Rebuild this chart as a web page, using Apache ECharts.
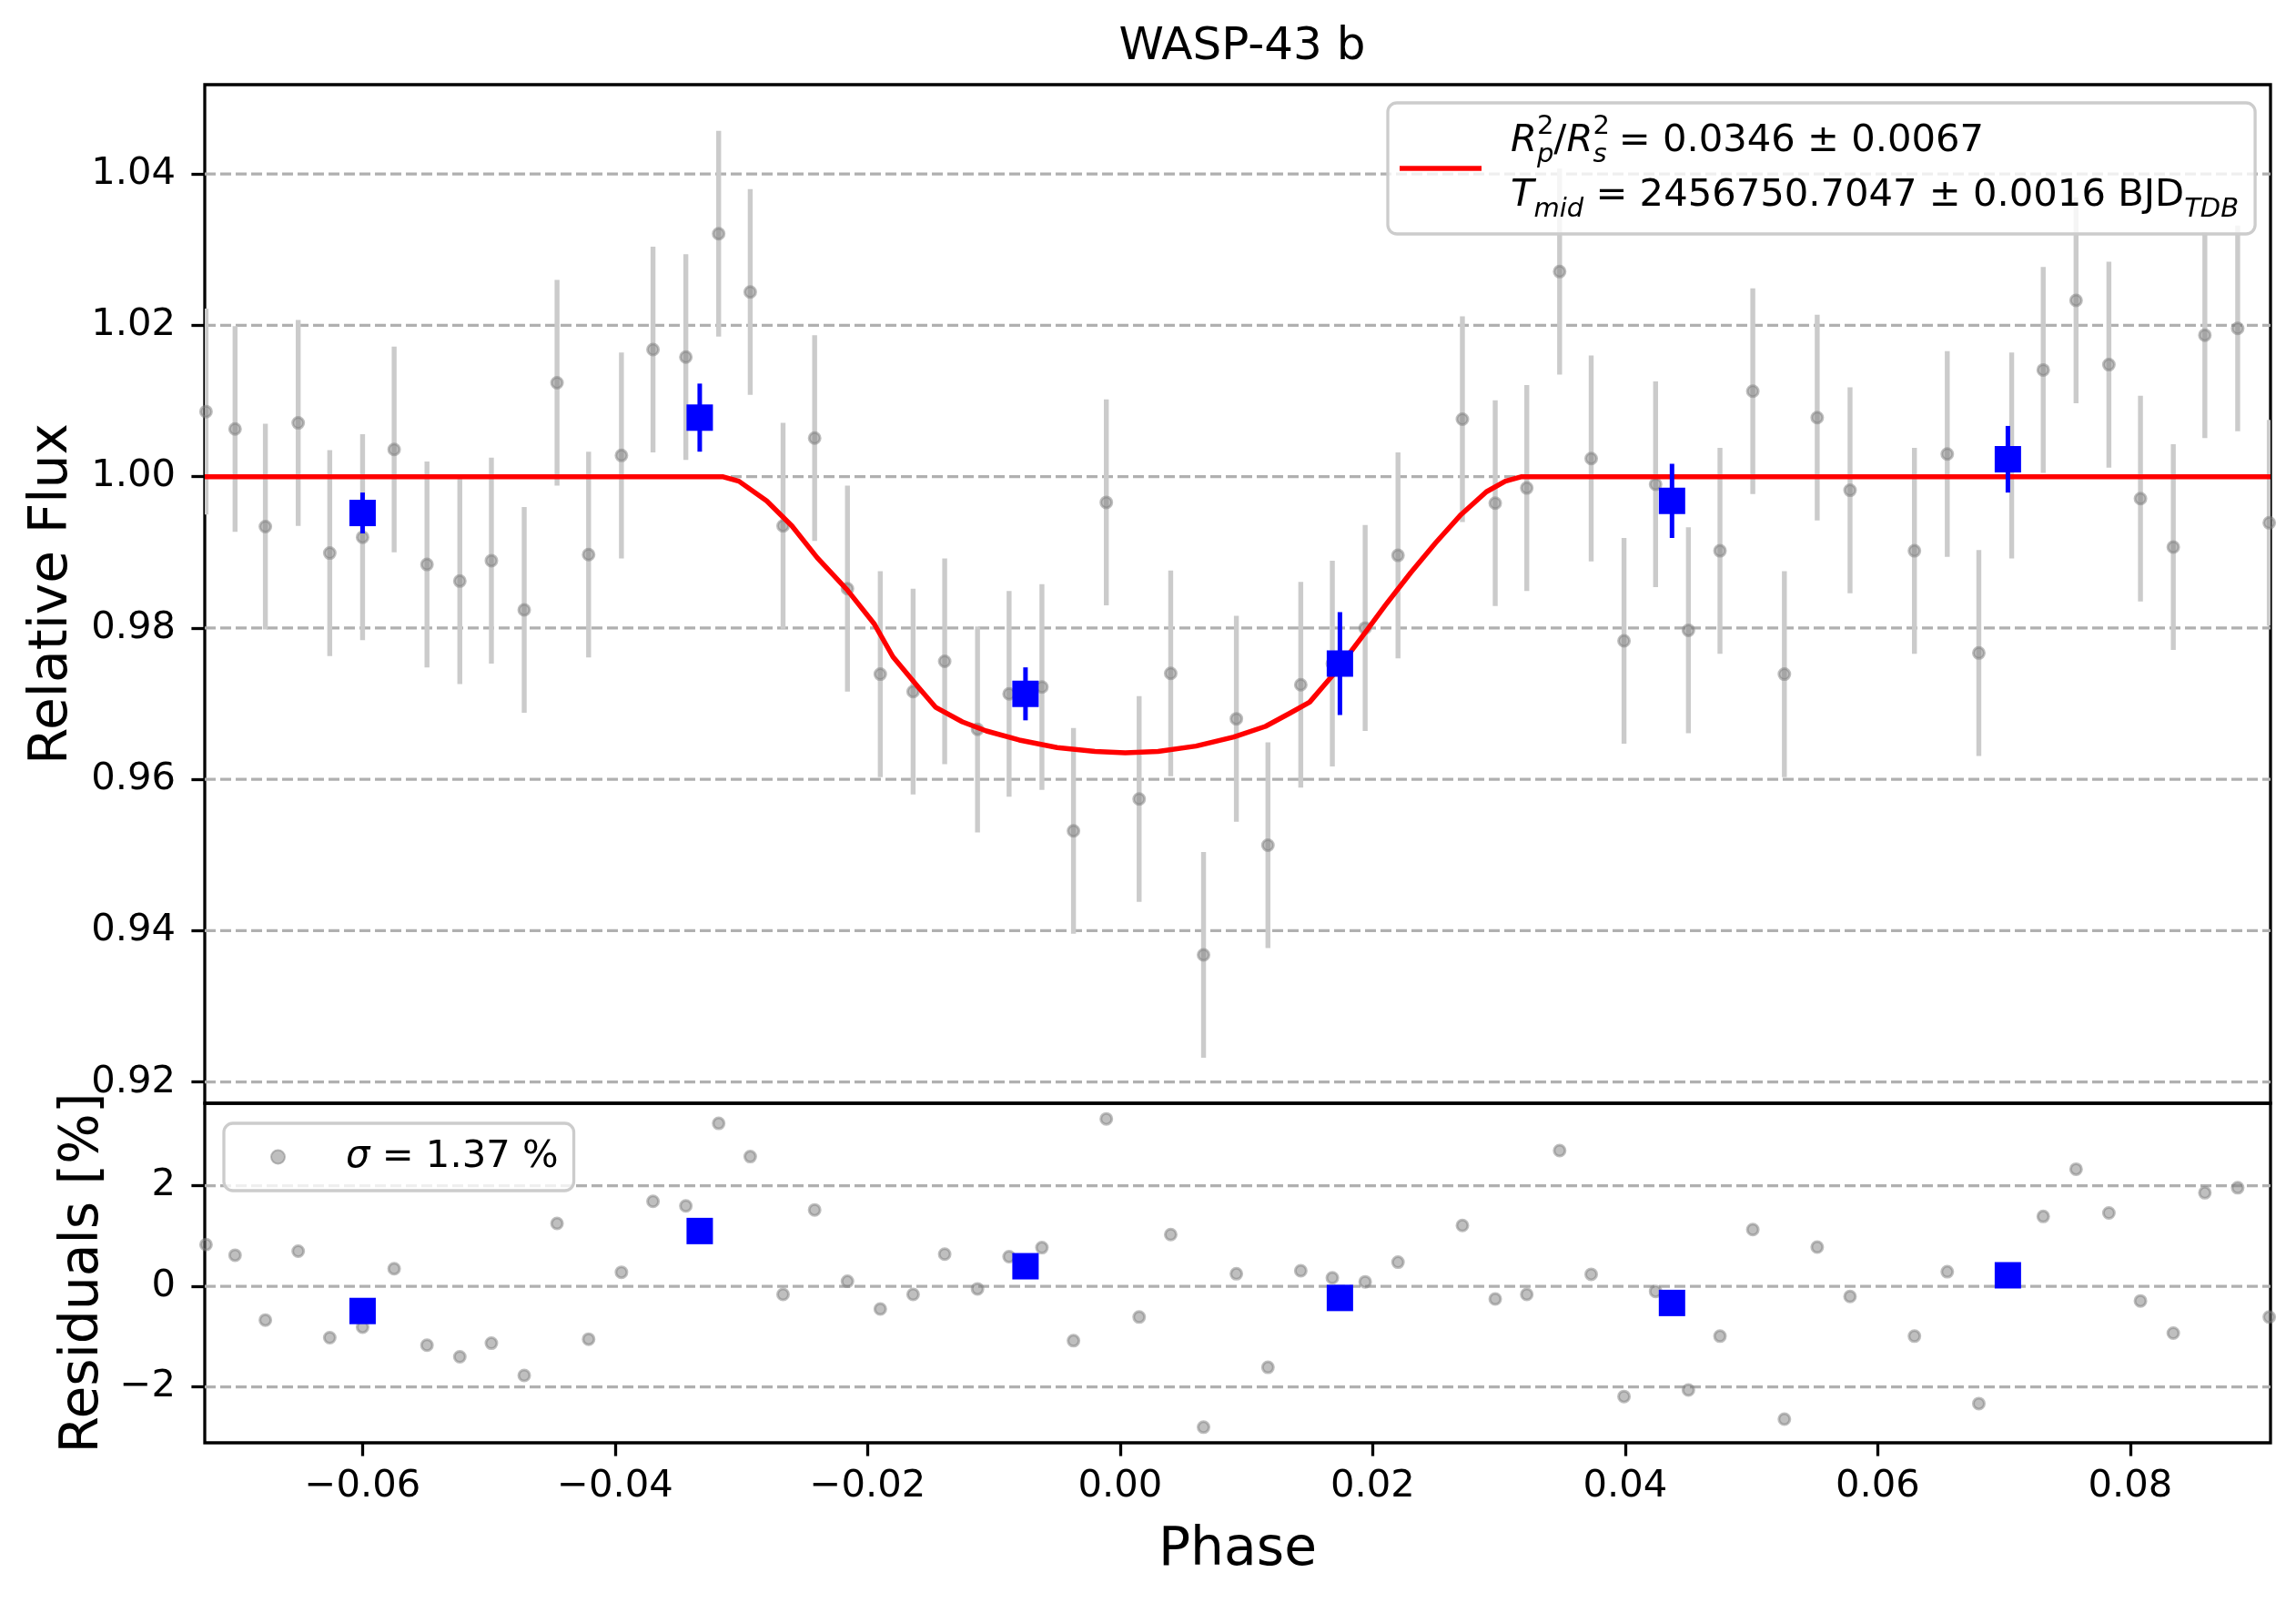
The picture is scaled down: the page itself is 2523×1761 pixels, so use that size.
<!DOCTYPE html>
<html>
<head>
<meta charset="utf-8">
<title>WASP-43 b</title>
<script src="https://cdn.jsdelivr.net/npm/echarts@6/dist/echarts.min.js"></script>
<style>
  html, body { margin: 0; padding: 0; background: #ffffff; }
  #chart { width: 2523px; height: 1761px; }
</style>
</head>
<body>
<div id="chart"></div>
<script>
// unbinned light curve (phase, relative flux) and residuals in %
var phase = [-0.0724, -0.0701, -0.0677, -0.0651, -0.0626, -0.0600, -0.0575, -0.0549, -0.0523, -0.0498,
  -0.0472, -0.0446, -0.0421, -0.0395, -0.0370, -0.0344, -0.0318, -0.0293, -0.0267, -0.0242,
  -0.0216, -0.0190, -0.0164, -0.0139, -0.0113, -0.0088, -0.0062, -0.0037, -0.0011, 0.0015,
  0.0040, 0.0066, 0.0092, 0.0117, 0.0143, 0.0168, 0.0194, 0.0220, 0.0271, 0.0297,
  0.0322, 0.0348, 0.0373, 0.0399, 0.0424, 0.0450, 0.0475, 0.0501, 0.0526, 0.0552,
  0.0578, 0.0629, 0.0655, 0.0680, 0.0706, 0.0731, 0.0757, 0.0783, 0.0808, 0.0834,
  0.0859, 0.0885, 0.0910];
var flux = [1.0086, 1.0063, 0.9934, 1.0071, 0.9899, 0.9920, 1.0036, 0.9884, 0.9862, 0.9889,
  0.9824, 1.0124, 0.9897, 1.0028, 1.0168, 1.0158, 1.0321, 1.0244, 0.9935, 1.0051,
  0.9852, 0.9739, 0.9716, 0.9756, 0.9666, 0.9713, 0.9722, 0.9532, 0.9966, 0.9574,
  0.9740, 0.9368, 0.9680, 0.9513, 0.9725, 0.9753, 0.9800, 0.9896, 1.0076, 0.9965,
  0.9985, 1.0271, 1.0024, 0.9783, 0.9990, 0.9797, 0.9902, 1.0113, 0.9739, 1.0078,
  0.9982, 0.9902, 1.0030, 0.9767, 1.0028, 1.0141, 1.0233, 1.0148, 0.9971, 0.9907,
  1.0187, 1.0196, 0.9939];
var resid = [0.83, 0.62, -0.67, 0.70, -1.02, -0.81, 0.35, -1.17, -1.40, -1.13,
  -1.77, 1.25, -1.05, 0.28, 1.69, 1.60, 3.24, 2.58, -0.16, 1.52,
  0.10, -0.45, -0.16, 0.64, -0.05, 0.59, 0.77, -1.08, 3.33, -0.61,
  1.03, -2.80, 0.25, -1.61, 0.31, 0.17, 0.09, 0.48, 1.21, -0.25,
  -0.16, 2.70, 0.24, -2.19, -0.10, -2.06, -0.99, 1.13, -2.64, 0.78,
  -0.20, -0.99, 0.29, -2.33, 0.28, 1.39, 2.33, 1.46, -0.29, -0.93,
  1.86, 1.96, -0.61];
var FLUX_ERR = 0.0136;

// binned points
var binPhase = [-0.0600, -0.0333, -0.0075, 0.0174, 0.0437, 0.0703];
var binFlux = [0.9952, 1.0078, 0.9713, 0.9753, 0.9968, 1.0023];
var binErr = [0.0027, 0.0045, 0.0035, 0.0068, 0.0049, 0.0044];
var binResid = [-0.49, 1.10, 0.40, -0.23, -0.33, 0.22];

// transit model curve
var modelPhase = [-0.0725, -0.0315, -0.0302, -0.0280, -0.0260, -0.0240, -0.0216, -0.0195,
  -0.0180, -0.0160, -0.0146, -0.0125, -0.0106, -0.0080, -0.0050, -0.0020, 0.0004, 0.0030,
  0.0060, 0.0090, 0.0115, 0.0135, 0.0150, 0.0170, 0.0190, 0.0210, 0.0230, 0.0250,
  0.0270, 0.0290, 0.0305, 0.0318, 0.0911];
var modelFlux = [1.0000, 1.0000, 0.9994, 0.9968, 0.9935, 0.9893, 0.9850, 0.9806,
  0.9762, 0.9722, 0.9695, 0.9676, 0.9664, 0.9652, 0.9642, 0.9637, 0.9635, 0.9637,
  0.9644, 0.9656, 0.9670, 0.9688, 0.9702, 0.9741, 0.9785, 0.9830, 0.9873, 0.9913,
  0.9950, 0.9980, 0.9994, 1.0000, 1.0000];

// ticks
var phaseTicks = [-0.06, -0.04, -0.02, 0.00, 0.02, 0.04, 0.06, 0.08];
var fluxTicks = [0.92, 0.94, 0.96, 0.98, 1.00, 1.02, 1.04];
var residTicks = [-2, 0, 2];

var FONT = 'DejaVu Sans';
var LW = 3.3;

var chart = echarts.init(document.getElementById('chart'));

function fmt(d) {
  return function (v) { return (v < 0 ? '\u2212' : '') + Math.abs(v).toFixed(d); };
}

function pairs(xs, ys) {
  return xs.map(function (x, i) { return [x, ys[i]]; });
}

// dashed horizontal grid lines at tick values
function gridLines(ticks, idx) {
  return {
    type: 'custom', xAxisIndex: idx, yAxisIndex: idx, z: 1, silent: true,
    data: ticks.map(function (v) { return [0, v]; }),
    encode: { x: 0, y: 1 },
    renderItem: function (params, api) {
      var cs = params.coordSys;
      var y = api.coord([0, api.value(1)])[1];
      return {
        type: 'line',
        shape: { x1: cs.x, y1: y, x2: cs.x + cs.width, y2: y },
        style: { stroke: '#b0b0b0', lineWidth: LW, lineDash: [12, 5] }
      };
    }
  };
}

function errBars(xs, ys, es, color, width, z) {
  return {
    type: 'custom', xAxisIndex: 0, yAxisIndex: 0, z: z, silent: true, clip: true,
    data: xs.map(function (x, i) { return [x, ys[i], Array.isArray(es) ? es[i] : es]; }),
    encode: { x: 0, y: 1 },
    renderItem: function (params, api) {
      var x = api.value(0), y = api.value(1), e = api.value(2);
      var a = api.coord([x, y - e]), b = api.coord([x, y + e]);
      return {
        type: 'line',
        shape: { x1: a[0], y1: a[1], x2: b[0], y2: b[1] },
        style: { stroke: color, lineWidth: width }
      };
    }
  };
}

var tickStyle = { show: true, inside: false, length: 14.6, lineStyle: { color: '#000', width: LW } };
var labelStyle = { color: '#000', fontFamily: FONT, fontSize: 41.7 };
var nameStyle = { color: '#000', fontFamily: FONT, fontSize: 58.3 };
var noLine = { show: false, onZero: false };

var grayDot = { color: 'rgba(128,128,128,0.5)', borderColor: 'rgba(128,128,128,0.5)', borderWidth: 3, opacity: 1 };
var blueSq = { color: '#0000ff', opacity: 1 };

var option = {
  animation: false,
  backgroundColor: '#ffffff',
  title: {
    text: 'WASP-43 b',
    left: 1360, top: 22, textAlign: 'center',
    textStyle: { color: '#000', fontFamily: FONT, fontSize: 50, fontWeight: 'normal' }
  },
  legend: [
    {
      data: [{ name: 'model', icon: 'rect' }],
      left: 1525, top: 113,
      orient: 'vertical',
      padding: [12, 18, 12, 13],
      itemWidth: 90, itemHeight: 5.5,
      backgroundColor: 'rgba(255,255,255,0.8)',
      borderColor: '#cccccc', borderWidth: LW, borderRadius: 10,
      selectedMode: false,
      formatter: function () {
        return '{it|R}{sup|2}{sub|p}/{it|R}{sup|2}{sub|s} = 0.0346 \u00b1 0.0067\n' +
          '{it|T}{subw|mid} = 2456750.7047 \u00b1 0.0016 BJD{subw|TDB}';
      },
      textStyle: {
        color: '#000', fontFamily: FONT, fontSize: 41.7, lineHeight: 60,
        padding: [0, 0, 0, 27],
        rich: {
          it: { fontFamily: FONT, fontSize: 41.7, fontStyle: 'italic', lineHeight: 60 },
          sup: { fontFamily: FONT, fontSize: 29, lineHeight: 29, verticalAlign: 'top', width: 0 },
          sub: { fontFamily: FONT, fontSize: 29, lineHeight: 29, verticalAlign: 'bottom', fontStyle: 'italic' },
          subw: { fontFamily: FONT, fontSize: 29, lineHeight: 29, verticalAlign: 'bottom', fontStyle: 'italic' }
        }
      }
    },
    {
      data: ['\u03c3 = 1.37 %'],
      left: 246, top: 1234,
      padding: [12, 17, 12, 51],
      itemWidth: 15, itemHeight: 15,
      backgroundColor: 'rgba(255,255,255,0.8)',
      borderColor: '#cccccc', borderWidth: LW, borderRadius: 10,
      selectedMode: false,
      formatter: function () { return '{it|\u03c3} = 1.37 %'; },
      textStyle: {
        color: '#000', fontFamily: FONT, fontSize: 41.7, lineHeight: 50,
        padding: [0, 0, 0, 62],
        rich: { it: { fontFamily: FONT, fontSize: 41.7, fontStyle: 'italic', lineHeight: 50 } }
      }
    }
  ],
  grid: [
    { left: 225, top: 93, width: 2270, height: 1119, show: true, borderColor: '#000', borderWidth: LW, backgroundColor: 'transparent' },
    { left: 225, top: 1212, width: 2270, height: 373, show: true, borderColor: '#000', borderWidth: LW, backgroundColor: 'transparent' }
  ],
  xAxis: [
    {
      type: 'value', gridIndex: 0, min: -0.0725, max: 0.0911,
      axisLine: noLine, axisTick: { show: false }, axisLabel: { show: false },
      splitLine: { show: false }
    },
    {
      type: 'value', gridIndex: 1, min: -0.0725, max: 0.0911, position: 'bottom',
      name: 'Phase', nameLocation: 'middle', nameGap: 90, nameTextStyle: nameStyle,
      axisLine: noLine,
      axisTick: Object.assign({ customValues: phaseTicks }, tickStyle),
      axisLabel: Object.assign({ customValues: phaseTicks, margin: 27, formatter: fmt(2) }, labelStyle),
      splitLine: { show: false }
    }
  ],
  yAxis: [
    {
      type: 'value', gridIndex: 0, min: 0.9172, max: 1.0518, position: 'left',
      name: 'Relative Flux', nameLocation: 'middle', nameGap: 138, nameTextStyle: nameStyle,
      axisLine: noLine,
      axisTick: Object.assign({ customValues: fluxTicks }, tickStyle),
      axisLabel: Object.assign({ customValues: fluxTicks, margin: 32, formatter: fmt(2) }, labelStyle),
      splitLine: { show: false }
    },
    {
      type: 'value', gridIndex: 1, min: -3.11, max: 3.64, position: 'left',
      name: 'Residuals [%]', nameLocation: 'middle', nameGap: 104, nameTextStyle: nameStyle,
      axisLine: noLine,
      axisTick: Object.assign({ customValues: residTicks }, tickStyle),
      axisLabel: Object.assign({ customValues: residTicks, margin: 32, formatter: fmt(0) }, labelStyle),
      splitLine: { show: false }
    }
  ],
  series: [
    gridLines(fluxTicks, 0),
    errBars(phase, flux, FLUX_ERR, '#cbcbcb', 5.4, 2),
    {
      name: 'data', type: 'scatter', xAxisIndex: 0, yAxisIndex: 0, z: 3, silent: true,
      symbol: 'circle', symbolSize: 12, itemStyle: grayDot,
      data: pairs(phase, flux)
    },
    {
      name: 'model', type: 'line', xAxisIndex: 0, yAxisIndex: 0, z: 4, silent: true,
      showSymbol: false, symbol: 'none', smooth: false,
      lineStyle: { color: '#ff0000', width: 5.5, join: 'round' }, itemStyle: { color: '#ff0000' },
      data: pairs(modelPhase, modelFlux)
    },
    errBars(binPhase, binFlux, binErr, '#0000ff', 5, 5),
    {
      name: 'binned', type: 'scatter', xAxisIndex: 0, yAxisIndex: 0, z: 6, silent: true,
      symbol: 'rect', symbolSize: 29, itemStyle: blueSq,
      data: pairs(binPhase, binFlux)
    },
    gridLines(residTicks, 1),
    {
      name: '\u03c3 = 1.37 %', type: 'scatter', xAxisIndex: 1, yAxisIndex: 1, z: 3, silent: true,
      symbol: 'circle', symbolSize: 12, itemStyle: grayDot,
      data: pairs(phase, resid)
    },
    {
      name: 'binned residuals', type: 'scatter', xAxisIndex: 1, yAxisIndex: 1, z: 6, silent: true,
      symbol: 'rect', symbolSize: 29, itemStyle: blueSq,
      data: pairs(binPhase, binResid)
    }
  ]
};

chart.setOption(option);
</script>
</body>
</html>
